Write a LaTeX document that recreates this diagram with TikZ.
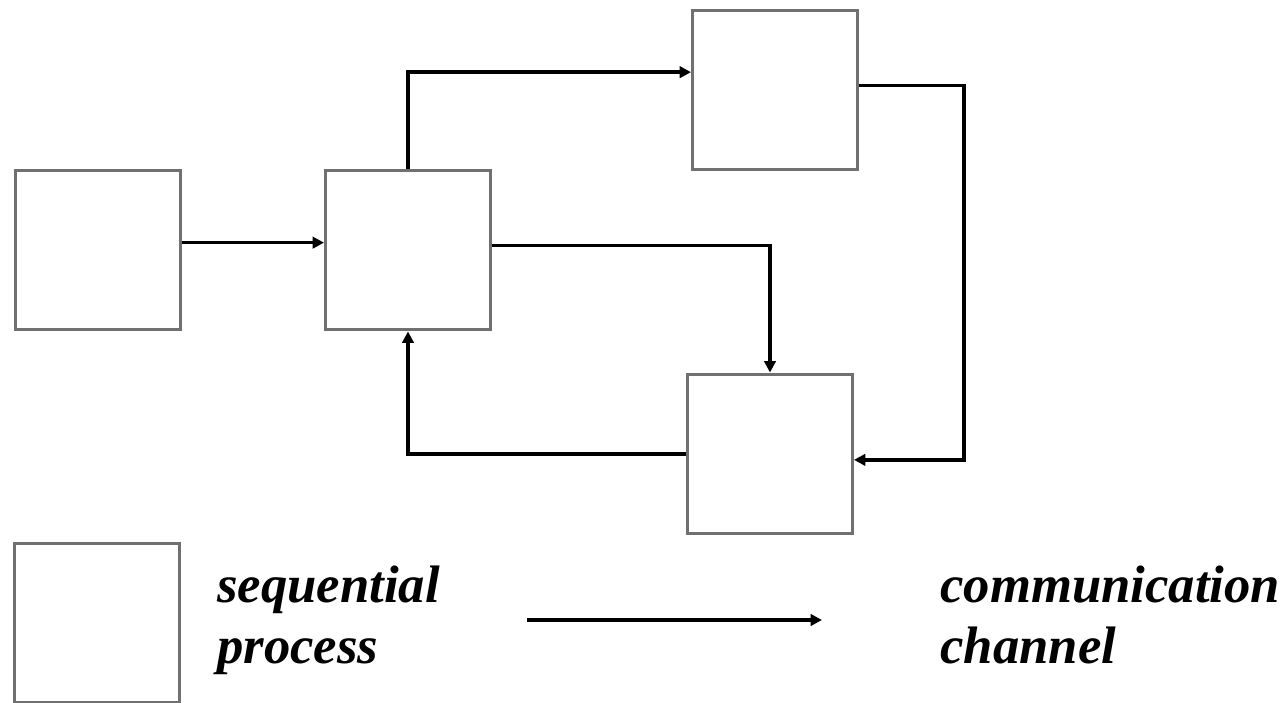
\documentclass[tikz,border=0pt]{standalone}
\usepackage{fontspec}
\setmainfont{Liberation Serif}
\usepackage{tikz}
\usetikzlibrary{positioning, calc, arrows.meta}
\definecolor{boxgray}{RGB}{112,112,112}

\begin{document}
\begin{tikzpicture}[x=0.02cm, y=-0.02cm,
    proc/.style={draw=boxgray, line width=1.7pt, fill=white, minimum width=3.3cm, minimum height=3.2cm, inner sep=0pt},
    chan/.style={line width=2pt, -{Triangle[length=6.5pt,width=6.5pt]}},
    lbl/.style={font=\fontsize{30}{34.5}\selectfont\bfseries\itshape, align=left, inner sep=0pt, anchor=base west}]
      \useasboundingbox (0,0) rectangle (1285,703);

      \node[proc] (P1) at (98,250) {};
      \node[proc] (P2) at (408,250) {};
      \node[proc] (P3) at (775,90) {};
      \node[proc] (P4) at (770,454) {};

      \node[proc] (LBox) at (97,623) {};
      \node[lbl] (LSeq) at (217,663) {sequential\\process};
      \coordinate (LArrS) at (527,620);
      \coordinate (LArrE) at (822,620);
      \node[lbl] (LCom) at (940,663) {communication\\channel};

      \draw[chan] (P1.5) -- (P2.175);
      \draw[chan] (P2.north) |- (P3.168);
      \draw[chan] (P2.3) -| (P4.north);
      \draw[chan] (P3.3) -- ++(105,0) |- (P4.356);
      \draw[chan] (P4.west) -| (P2.south);
      \draw[chan] (LArrS) -- (LArrE);
    \end{tikzpicture}
\end{document}
